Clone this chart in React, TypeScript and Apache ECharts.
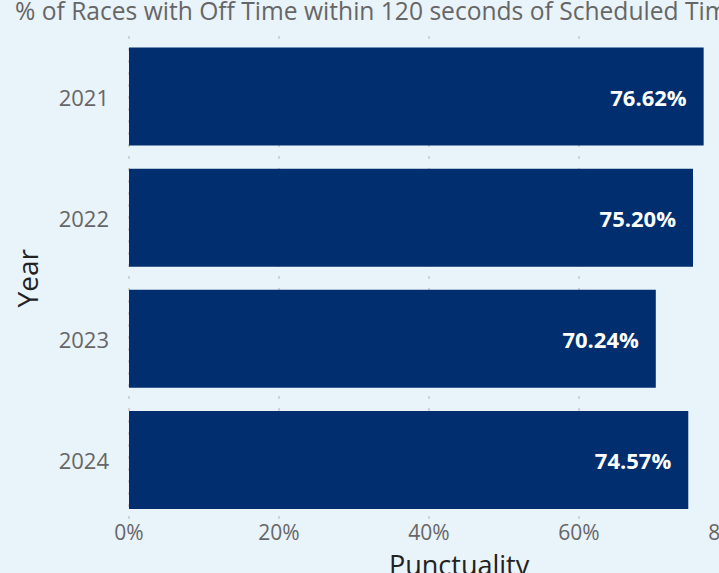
import React, { useEffect, useRef } from "react";
import * as echarts from "echarts";

const years = ["2021", "2022", "2023", "2024"];
const punctuality = [76.62, 75.2, 70.24, 74.57];
const xTicks = [0, 20, 40, 60, 80];
const titleText = "% of Races with Off Time within 120 seconds of Scheduled Time";

export default function App() {
  const ref = useRef<HTMLDivElement>(null);
  useEffect(() => {
    document.body.style.margin = "0";
    const chart = echarts.init(ref.current!, null, { renderer: "svg" });
    const font = "'Open Sans', 'Noto Sans', sans-serif";
    chart.setOption({
      animation: false,
      backgroundColor: "#e9f3fa",
      textStyle: { fontFamily: font },
      title: {
        text: titleText,
        left: 10,
        top: -7,
        textStyle: { fontSize: 24.6, fontWeight: "normal", color: "#666666", fontFamily: font },
      },
      grid: { left: 129, right: 31, top: 36, bottom: 52.5, containLabel: false },
      xAxis: {
        type: "value",
        min: xTicks[0],
        max: xTicks[xTicks.length - 1],
        interval: 20,
        axisLine: { show: false },
        axisTick: { show: false },
        axisLabel: {
          formatter: (v: number) => v + "%",
          fontSize: 21,
          color: "#666666",
          margin: 1,
          fontFamily: font,
        },
        splitLine: {
          show: true,
          lineStyle: { color: "#c8c8c8", type: [3, 9], width: 1.5 },
        },
      },
      yAxis: {
        type: "category",
        data: years,
        inverse: true,
        axisLine: { show: false },
        axisTick: { show: false },
        axisLabel: { fontSize: 22, color: "#666666", margin: 20, fontFamily: font },
        name: "Year",
        nameLocation: "middle",
        nameGap: 88,
        nameTextStyle: { fontSize: 28, color: "#222222", fontFamily: font },
      },
      graphic: [
        {
          type: "text",
          left: 389,
          top: 551,
          style: { text: "Punctuality", fontSize: 27, fill: "#222222", fontFamily: font },
        },
      ],
      series: [
        {
          type: "bar",
          data: punctuality,
          barWidth: "81%",
          itemStyle: { color: "#002e6e" },
          label: {
            show: true,
            position: "insideRight",
            distance: 17,
            formatter: (p: any) => p.value.toFixed(2) + "%",
            color: "#ffffff",
            fontSize: 22,
            fontWeight: "bold",
            fontFamily: font,
          },
        },
      ],
    });
    return () => chart.dispose();
  }, []);
  return (
    <div style={{ width: 719, height: 573, overflow: "hidden", position: "relative" }}>
      <div ref={ref} style={{ width: 760, height: 573 }} />
    </div>
  );
}
